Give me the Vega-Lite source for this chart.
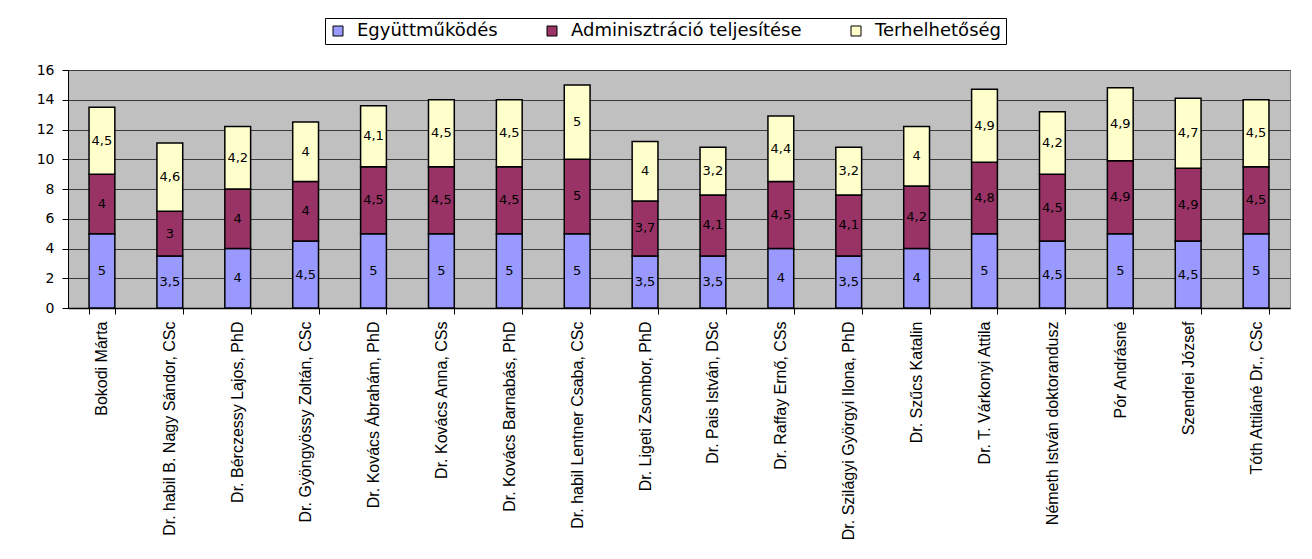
{
  "$schema": "https://vega.github.io/schema/vega-lite/v6.json",
  "width": 1222,
  "height": 238,
  "autosize": {"type": "none"},
  "padding": {"left": 68, "top": 70, "right": 22, "bottom": 251},
  "background": "white",
  "datasets": {
    "scores": [
      {"name": "Bokodi Márta", "cat": "Együttműködés", "v": 5},
      {"name": "Bokodi Márta", "cat": "Adminisztráció teljesítése", "v": 4},
      {"name": "Bokodi Márta", "cat": "Terhelhetőség", "v": 4.5},
      {"name": "Dr. habil  B. Nagy Sándor, CSc", "cat": "Együttműködés", "v": 3.5},
      {"name": "Dr. habil  B. Nagy Sándor, CSc", "cat": "Adminisztráció teljesítése", "v": 3},
      {"name": "Dr. habil  B. Nagy Sándor, CSc", "cat": "Terhelhetőség", "v": 4.6},
      {"name": "Dr. Bérczessy Lajos, PhD", "cat": "Együttműködés", "v": 4},
      {"name": "Dr. Bérczessy Lajos, PhD", "cat": "Adminisztráció teljesítése", "v": 4},
      {"name": "Dr. Bérczessy Lajos, PhD", "cat": "Terhelhetőség", "v": 4.2},
      {"name": "Dr. Gyöngyössy Zoltán, CSc", "cat": "Együttműködés", "v": 4.5},
      {"name": "Dr. Gyöngyössy Zoltán, CSc", "cat": "Adminisztráció teljesítése", "v": 4},
      {"name": "Dr. Gyöngyössy Zoltán, CSc", "cat": "Terhelhetőség", "v": 4},
      {"name": "Dr. Kovács Ábrahám, PhD", "cat": "Együttműködés", "v": 5},
      {"name": "Dr. Kovács Ábrahám, PhD", "cat": "Adminisztráció teljesítése", "v": 4.5},
      {"name": "Dr. Kovács Ábrahám, PhD", "cat": "Terhelhetőség", "v": 4.1},
      {"name": "Dr. Kovács Anna, CSs", "cat": "Együttműködés", "v": 5},
      {"name": "Dr. Kovács Anna, CSs", "cat": "Adminisztráció teljesítése", "v": 4.5},
      {"name": "Dr. Kovács Anna, CSs", "cat": "Terhelhetőség", "v": 4.5},
      {"name": "Dr. Kovács Barnabás, PhD", "cat": "Együttműködés", "v": 5},
      {"name": "Dr. Kovács Barnabás, PhD", "cat": "Adminisztráció teljesítése", "v": 4.5},
      {"name": "Dr. Kovács Barnabás, PhD", "cat": "Terhelhetőség", "v": 4.5},
      {"name": "Dr. habil Lentner Csaba, CSc", "cat": "Együttműködés", "v": 5},
      {"name": "Dr. habil Lentner Csaba, CSc", "cat": "Adminisztráció teljesítése", "v": 5},
      {"name": "Dr. habil Lentner Csaba, CSc", "cat": "Terhelhetőség", "v": 5},
      {"name": "Dr. Ligeti Zsombor, PhD", "cat": "Együttműködés", "v": 3.5},
      {"name": "Dr. Ligeti Zsombor, PhD", "cat": "Adminisztráció teljesítése", "v": 3.7},
      {"name": "Dr. Ligeti Zsombor, PhD", "cat": "Terhelhetőség", "v": 4},
      {"name": "Dr. Pais István, DSc", "cat": "Együttműködés", "v": 3.5},
      {"name": "Dr. Pais István, DSc", "cat": "Adminisztráció teljesítése", "v": 4.1},
      {"name": "Dr. Pais István, DSc", "cat": "Terhelhetőség", "v": 3.2},
      {"name": "Dr. Raffay Ernő, CSs", "cat": "Együttműködés", "v": 4},
      {"name": "Dr. Raffay Ernő, CSs", "cat": "Adminisztráció teljesítése", "v": 4.5},
      {"name": "Dr. Raffay Ernő, CSs", "cat": "Terhelhetőség", "v": 4.4},
      {"name": "Dr. Szilágyi Györgyi Ilona, PhD", "cat": "Együttműködés", "v": 3.5},
      {"name": "Dr. Szilágyi Györgyi Ilona, PhD", "cat": "Adminisztráció teljesítése", "v": 4.1},
      {"name": "Dr. Szilágyi Györgyi Ilona, PhD", "cat": "Terhelhetőség", "v": 3.2},
      {"name": "Dr. Szűcs Katalin", "cat": "Együttműködés", "v": 4},
      {"name": "Dr. Szűcs Katalin", "cat": "Adminisztráció teljesítése", "v": 4.2},
      {"name": "Dr. Szűcs Katalin", "cat": "Terhelhetőség", "v": 4},
      {"name": "Dr. T. Várkonyi Attila", "cat": "Együttműködés", "v": 5},
      {"name": "Dr. T. Várkonyi Attila", "cat": "Adminisztráció teljesítése", "v": 4.8},
      {"name": "Dr. T. Várkonyi Attila", "cat": "Terhelhetőség", "v": 4.9},
      {"name": "Németh István doktorandusz", "cat": "Együttműködés", "v": 4.5},
      {"name": "Németh István doktorandusz", "cat": "Adminisztráció teljesítése", "v": 4.5},
      {"name": "Németh István doktorandusz", "cat": "Terhelhetőség", "v": 4.2},
      {"name": "Pór Andrásné", "cat": "Együttműködés", "v": 5},
      {"name": "Pór Andrásné", "cat": "Adminisztráció teljesítése", "v": 4.9},
      {"name": "Pór Andrásné", "cat": "Terhelhetőség", "v": 4.9},
      {"name": "Szendrei József", "cat": "Együttműködés", "v": 4.5},
      {"name": "Szendrei József", "cat": "Adminisztráció teljesítése", "v": 4.9},
      {"name": "Szendrei József", "cat": "Terhelhetőség", "v": 4.7},
      {"name": "Tóth Attiláné Dr., CSc", "cat": "Együttműködés", "v": 5},
      {"name": "Tóth Attiláné Dr., CSc", "cat": "Adminisztráció teljesítése", "v": 4.5},
      {"name": "Tóth Attiláné Dr., CSc", "cat": "Terhelhetőség", "v": 4.5}
    ]
  },
  "data": {"name": "scores"},
  "transform": [
    {"calculate": "indexof(['Együttműködés','Adminisztráció teljesítése','Terhelhetőség'], datum.cat)", "as": "ord"},
    {"stack": "v", "groupby": ["name"], "sort": [{"field": "ord", "order": "ascending"}], "as": ["v0", "v1"]},
    {"calculate": "(datum.v0 + datum.v1) / 2", "as": "mid"},
    {"calculate": "replace(toString(datum.v), '.', ',')", "as": "lbl"}
  ],
  "encoding": {
    "x": {
      "field": "name",
      "type": "nominal",
      "sort": null,
      "scale": {"paddingInner": 0.62, "paddingOuter": 0.31},
      "axis": {
        "title": null,
        "labelAngle": -90,
        "labelAlign": "right",
        "labelBaseline": "middle",
        "labelFont": "Liberation Sans",
        "labelFontSize": 16,
        "labelColor": "black",
        "labelPadding": 7,
        "labelLimit": 300,
        "tickBand": "extent",
        "tickColor": "black",
        "tickSize": 6,
        "domainColor": "black",
        "domainWidth": 1.5,
        "grid": false
      }
    },
    "y": {
      "field": "v0",
      "type": "quantitative",
      "scale": {"domain": [0, 16]},
      "axis": {
        "title": null,
        "values": [0, 2, 4, 6, 8, 10, 12, 14, 16],
        "labelOverlap": false,
        "grid": true,
        "gridColor": "#3a3a3a",
        "gridWidth": 1,
        "domainColor": "black",
        "tickColor": "black",
        "tickSize": 6,
        "labelFont": "DejaVu Sans",
        "labelFontSize": 14,
        "labelColor": "black",
        "labelPadding": 8
      }
    }
  },
  "layer": [
    {
      "mark": {"type": "bar", "stroke": "black", "strokeWidth": 1.5},
      "encoding": {
        "y2": {"field": "v1"},
        "color": {
          "field": "cat",
          "type": "nominal",
          "scale": {
            "domain": ["Együttműködés", "Adminisztráció teljesítése", "Terhelhetőség"],
            "range": ["#9999FF", "#993366", "#FFFFCC"]
          },
          "legend": {
            "title": null,
            "orient": "none",
            "legendX": 257,
            "legendY": -52,
            "direction": "horizontal",
            "symbolType": "square",
            "symbolSize": 100,
            "symbolStrokeColor": "black",
            "symbolStrokeWidth": 1,
            "symbolOpacity": 1,
            "labelFont": "DejaVu Sans",
            "labelFontSize": 18,
            "labelOffset": 10,
            "labelColor": "black",
            "labelLimit": 400,
            "columnPadding": 45,
            "strokeColor": "black",
            "fillColor": "white",
            "padding": 4
          }
        }
      }
    },
    {
      "mark": {"type": "text", "font": "DejaVu Sans", "fontSize": 13, "color": "black", "baseline": "middle"},
      "encoding": {
        "y": {"field": "mid", "type": "quantitative"},
        "text": {"field": "lbl", "type": "nominal"}
      }
    }
  ],
  "config": {
    "view": {"fill": "#C0C0C0", "stroke": "#808080"}
  }
}
